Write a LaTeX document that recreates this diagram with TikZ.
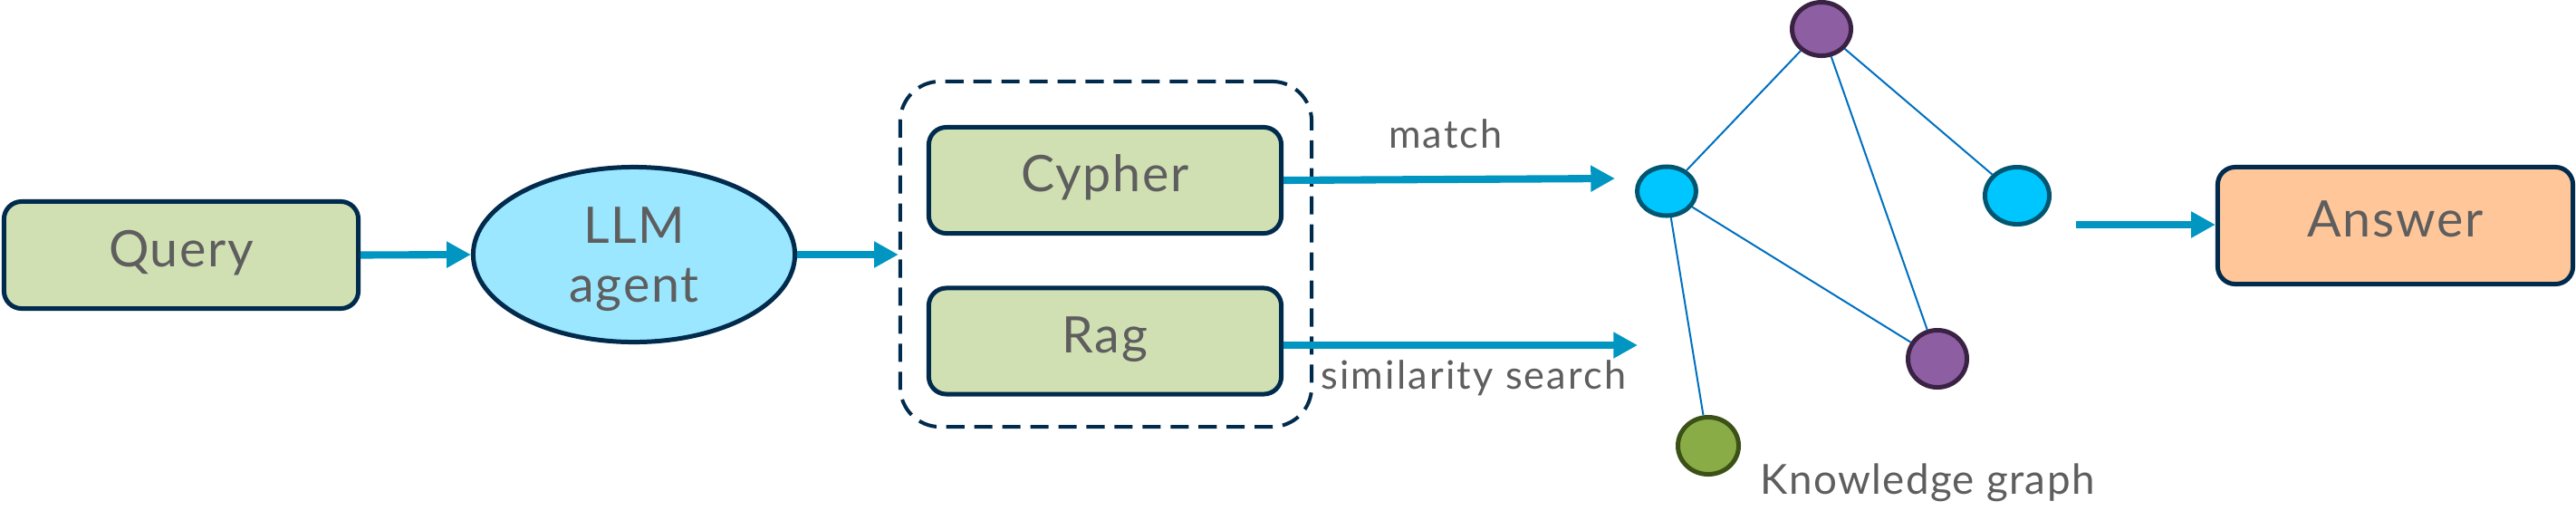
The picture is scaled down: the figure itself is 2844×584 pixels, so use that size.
\documentclass[tikz,border=0pt]{standalone}
\usepackage{fontspec}
\setmainfont{Lato}
\usetikzlibrary{arrows.meta,shapes.geometric}
\definecolor{navy}{HTML}{012B4D}
\definecolor{boxgreen}{HTML}{D1E0B3}
\definecolor{llmblue}{HTML}{9BE7FF}
\definecolor{peach}{HTML}{FFC699}
\definecolor{arrowblue}{HTML}{0096C1}
\definecolor{edgeblue}{HTML}{0070C0}
\definecolor{txtgray}{HTML}{5E5E5E}
\definecolor{purplefill}{HTML}{8E5EA2}
\definecolor{purpleline}{HTML}{3A2244}
\definecolor{cyanfill}{HTML}{00C6FF}
\definecolor{cyanline}{HTML}{005570}
\definecolor{greenfill}{HTML}{8AAC46}
\definecolor{greenline}{HTML}{3B5117}
\pgfdeclarelayer{bg}
\pgfsetlayers{bg,main}
\begin{document}
\begin{tikzpicture}[x=0.01cm,y=-0.01cm,
  bigfont/.style={font=\fontsize{15.8}{18.5}\selectfont\addfontfeature{LetterSpace=3}},
  box/.style={draw=navy, line width=1.42pt, rounded corners=5.5pt, inner sep=0pt,
    text height=0.72em, text depth=0pt, text=txtgray, bigfont},
  greenbox/.style={box, fill=boxgreen, minimum width=3.89cm, minimum height=1.17cm},
  flow/.style={draw=arrowblue, line width=2.3pt, -{Triangle[length=7.6pt,width=7.8pt]}},
  link/.style={draw=edgeblue, line width=0.57pt},
  kgnode/.style={ellipse, line width=1.42pt, inner sep=0pt},
  purplenode/.style={kgnode, draw=purpleline, fill=purplefill},
  cyannode/.style={kgnode, draw=cyanline, fill=cyanfill},
  greennode/.style={kgnode, draw=greenline, fill=greenfill},
  lbl/.style={text=txtgray, inner sep=0pt, font=\fontsize{12.3}{14}\selectfont\addfontfeature{LetterSpace=5}},
  bigtxt/.style={text=txtgray, inner sep=0pt, bigfont}]
\useasboundingbox (0,0) rectangle (2844,584);

% main boxes
\node[box, fill=boxgreen, minimum width=3.91cm, minimum height=1.18cm] (query) at (200,281.5) {Query};
\node[ellipse, draw=navy, line width=1.42pt, fill=llmblue, inner sep=0pt,
      minimum width=3.55cm, minimum height=1.93cm] (llm) at (700,281) {};
\node[bigtxt, anchor=base] (llmtop) at (700,268) {LLM};
\node[bigtxt, anchor=base] (llmbot) at (700,333) {agent};

\node[draw=navy, line width=1.14pt, dash pattern=on 5.7pt off 3.1pt, rounded corners=12.5pt,
      minimum width=4.54cm, minimum height=3.81cm, inner sep=0pt] (grp) at (1221,280.5) {};
\node[greenbox] (cypher) at (1220,199) {Cypher};
\node[greenbox] (rag) at (1220,376.5) {Rag};

\node[box, fill=peach, minimum width=3.92cm, minimum height=1.29cm] (answer) at (2644.5,249) {Answer};

% knowledge graph nodes
\node[purplenode, minimum width=0.65cm, minimum height=0.59cm] (p1) at (2011,32) {};
\node[cyannode, minimum width=0.65cm, minimum height=0.54cm] (c1) at (1840,211) {};
\node[cyannode, minimum width=0.71cm, minimum height=0.63cm] (c2) at (2227,216) {};
\node[purplenode, minimum width=0.65cm, minimum height=0.63cm] (p2) at (2139,396) {};
\node[greennode, minimum width=0.67cm, minimum height=0.63cm] (g) at (1886,492) {};

\begin{pgfonlayer}{bg}
\draw[link] (p1) -- (c1);
\draw[link] (p1) -- (c2);
\draw[link] (p1) -- (p2);
\draw[link] (c1) -- (p2);
\draw[link] (c1) -- (g);
\end{pgfonlayer}

% labels
\node[lbl, anchor=base] (matchlbl) at (1596,163) {match};
\node[lbl, anchor=base] (simlbl) at (1627,429) {similarity search};
\node[lbl, anchor=base west, font=\fontsize{13}{15}\selectfont\addfontfeature{LetterSpace=3}] (kglbl) at (1943,545) {Knowledge graph};

% connectors
\coordinate (mEnd) at (1783,197);
\coordinate (rEnd) at (1808,381);
\coordinate (aStart) at (2292,248);
\draw[flow] (query.east) -- (llm.west);
\draw[flow] (llm.east) -- (llm.east -| grp.west);
\draw[flow] (cypher.east) -- (mEnd);
\draw[flow] (rag.east |- rEnd) -- (rEnd);
\draw[flow] (aStart) -- (aStart -| answer.west);
\end{tikzpicture}
\end{document}
